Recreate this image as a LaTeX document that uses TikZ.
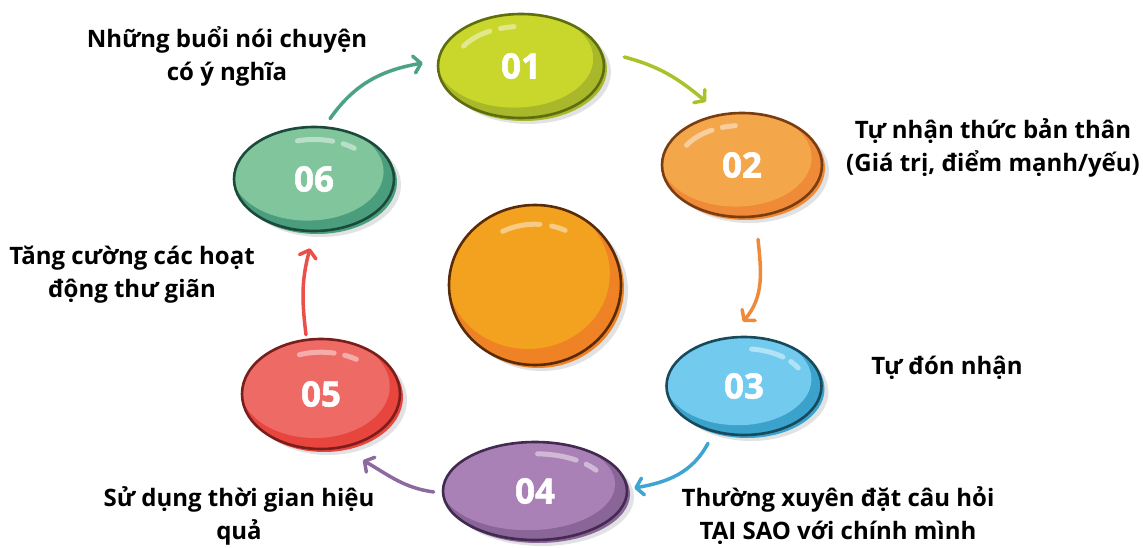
\documentclass[tikz,border=0pt]{standalone}
\usepackage{fontspec}
\setmainfont{Open Sans}
\newfontfamily\numfont{Open Sans}[BoldFeatures={FakeBold=1.6}]
\usetikzlibrary{shapes.geometric,arrows.meta,calc,shadows}

\definecolor{Shade}{HTML}{E1E2E4}
\definecolor{c01}{HTML}{C9D62B}\definecolor{c01dk}{HTML}{A8B82A}\definecolor{c01rim}{HTML}{5E6E0E}\definecolor{c01ln}{HTML}{A8C22A}
\definecolor{c02}{HTML}{F4A64B}\definecolor{c02dk}{HTML}{EF8A38}\definecolor{c02rim}{HTML}{7A3D10}\definecolor{c02ln}{HTML}{F08A3B}
\definecolor{c03}{HTML}{72CBEE}\definecolor{c03dk}{HTML}{3BA2CB}\definecolor{c03rim}{HTML}{184A5C}\definecolor{c03ln}{HTML}{3DA5CF}
\definecolor{c04}{HTML}{A981B6}\definecolor{c04dk}{HTML}{8A6698}\definecolor{c04rim}{HTML}{432A50}\definecolor{c04ln}{HTML}{8D6A9D}
\definecolor{c05}{HTML}{EE6B65}\definecolor{c05dk}{HTML}{E8453F}\definecolor{c05rim}{HTML}{7A1E1C}\definecolor{c05ln}{HTML}{EB4F4A}
\definecolor{c06}{HTML}{80C59B}\definecolor{c06dk}{HTML}{4A9E7E}\definecolor{c06rim}{HTML}{1C4A3A}\definecolor{c06ln}{HTML}{4BA383}
\definecolor{hub}{HTML}{F2A21E}\definecolor{hubdk}{HTML}{EF8224}\definecolor{hubrim}{HTML}{5A2B08}

\begin{document}
\begin{tikzpicture}[x=1pt,y=1pt]
	\tikzstyle{Caption}	= [font=\bfseries\fontsize{24}{33}\selectfont, align=center, text=black, inner sep=0pt]
	\tikzstyle{Number}	= [font=\numfont\bfseries\fontsize{35}{35}\selectfont, text=white]
	\tikzstyle{Link}	= [line width=3.5pt, line cap=round, -{Straight Barb[length=7pt, width=17pt, round]}]
	% glossy bean: light top, darker bottom, hand drawn rim, two shine strokes at angle #2
	\tikzset{Bean/.style 2 args={ellipse, inner sep=0pt, fill=#1dk, draw=#1rim, line width=2.6pt,
		drop shadow={shadow xshift=7pt, shadow yshift=-6pt, fill=Shade, opacity=1},
		preaction={fill=#1dk, transform canvas={shift={(3pt,-3pt)}}},
		path picture={
			\fill[#1] let \p1=(path picture bounding box.north east), \p2=(path picture bounding box.center),
				\n1={\x1-\x2}, \n2={\y1-\y2} in
				(\x2-0.08*\n1, \y2+0.14*\n2) ellipse [x radius={0.95*\n1}, y radius={0.94*\n2}];
			\draw[white, opacity=.45, line width=5pt, line cap=round]
				let \p1=(path picture bounding box.north east), \p2=(path picture bounding box.center),
				\n1={\x1-\x2}, \n2={\y1-\y2} in
				({\x2+0.8*\n1*cos(#2)}, {\y2+0.76*\n2*sin(#2)})
					arc[start angle=#2, end angle=#2-32, x radius={0.8*\n1}, y radius={0.76*\n2}]
				({\x2+0.8*\n1*cos(#2-42)}, {\y2+0.76*\n2*sin(#2-42)})
					arc[start angle=#2-42, end angle=#2-54, x radius={0.8*\n1}, y radius={0.76*\n2}];
		}}}

	\useasboundingbox (0,0) rectangle (1143,547);

	% the six steps and the hub
	\node (b1) at (521,481) [Bean={c01}{150}, minimum width=166, minimum height=104][Number] {01};
	\node (b2) at (742,382) [Bean={c02}{150}, minimum width=160, minimum height=104][Number] {02};
	\node (b3) at (744,161) [Bean={c03}{83}, minimum width=155, minimum height=98][Number] {03};
	\node (b4) at (535,56) [Bean={c04}{88}, minimum width=184, minimum height=98][Number] {04};
	\node (b5) at (321,153) [Bean={c05}{110}, minimum width=158, minimum height=110][Number] {05};
	\node (b6) at (314,368) [Bean={c06}{105}, minimum width=160, minimum height=104][Number] {06};
	\node (hub) at (535,262) [Bean={hub}{118}, minimum width=172, minimum height=160] {};

	% arrows round the ring
	\draw[Link, c01ln] ([shift={(19,9)}]b1.east) to[out=-15, in=140] ([shift={(-36,10)}]b2.north);
	\draw[Link, c02ln] ([shift={(16,-21)}]b2.south) to[out=-84, in=50] ([shift={(-1,14)}]b3.north);
	\draw[Link, c03ln] ([shift={(-36,-7)}]b3.south) to[out=-118, in=10] ([shift={(6,3)}]b4.east);
	\draw[Link, c04ln] ([shift={(-8,-1)}]b4.west) to[out=172, in=-30] ([shift={(42,-10)}]b5.south);
	\draw[Link, c05ln] ([shift={(-15,3)}]b5.north) to[out=97, in=-105] ([shift={(-4,-16)}]b6.south);
	\draw[Link, c06ln] ([shift={(16,7)}]b6.north) to[out=55, in=190] ([shift={(-14,3)}]b1.west);

	% captions
	\node (l1) at (227,491) [Caption] {Những buổi nói chuyện\\có ý nghĩa};
	\node (l2) at (993,399) [Caption] {Tự nhận thức bản thân\\(Giá trị, điểm mạnh/yếu)};
	\node (l3) at (947,179) [Caption] {Tự đón nhận};
	\node (l4) at (838,31) [Caption] {Thường xuyên đặt câu hỏi\\TẠI SAO với chính mình};
	\node (l5) at (239,31) [Caption] {Sử dụng thời gian hiệu\\quả};
	\node (l6) at (132,272) [Caption] {Tăng cường các hoạt\\động thư giãn};
\end{tikzpicture}
\end{document}
